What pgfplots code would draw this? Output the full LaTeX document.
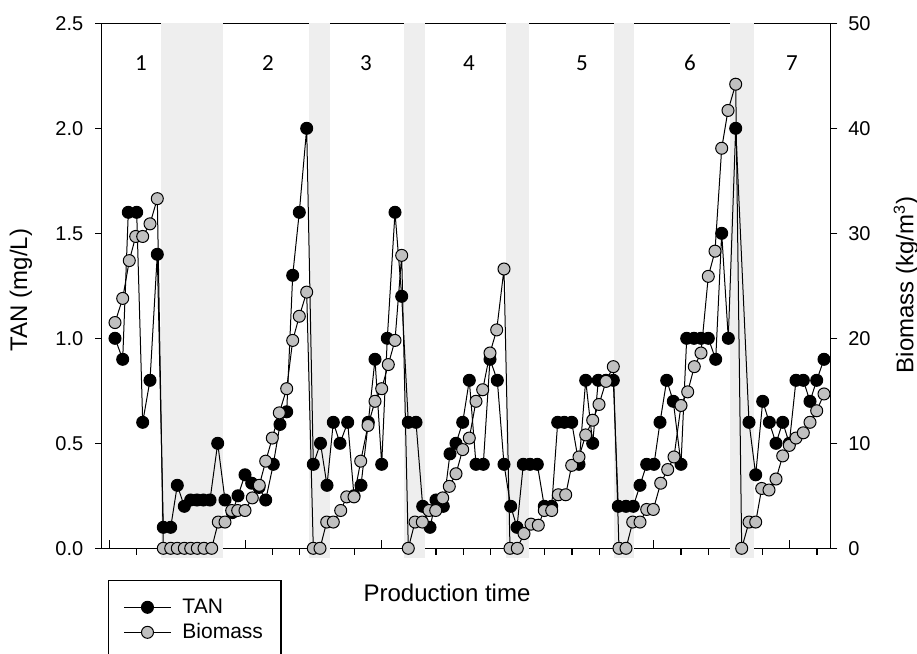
\documentclass[border=0pt]{standalone}
\usepackage{pgfplots}
\pgfplotsset{compat=1.18}
\usepackage{fontspec}
\setmainfont{Liberation Sans}
\newfontfamily\calibri{Carlito}
\definecolor{bandgray}{RGB}{238,238,238}
\definecolor{markgray}{RGB}{192,192,192}

\begin{document}
\begin{tikzpicture}
\pgfplotsset{
  common/.style={
    scale only axis, width=364.5pt, height=262.5pt,
    at={(0,0)}, anchor=south west,
    xmin=101.7, xmax=830.7, clip=false,
    axis line style={line width=0.6pt},
    every tick/.style={black, line width=0.6pt},
    tick align=outside,
    major tick length=3.3pt,
    tick label style={font=\fontsize{10}{12}\selectfont},
    /pgf/number format/assume math mode=true,
  },
  tanline/.style={black, line width=0.5pt, mark=*, mark size=3pt,
    mark options={fill=black, draw=black, line width=0.5pt}},
  bioline/.style={black, line width=0.5pt, mark=*, mark size=3pt,
    mark options={fill=markgray, draw=black, line width=0.5pt}},
}

% TAN, left axis
\begin{axis}[common,
  ymin=0, ymax=2.5, ytick={0,0.5,...,2.5}, ytick pos=left,
  yticklabel style={xshift=-2.4pt, /pgf/number format/fixed,
    /pgf/number format/fixed zerofill, /pgf/number format/precision=1},
  xtick pos=left,
  xtick={136.5,163.7,190.9,218.2,272.6,299.8,327.1,354.3,408.7,435.9,463.2,490.4,
         544.8,572.0,599.3,626.5,680.9,708.1,735.4,762.6,817.0},
  xticklabels={},
  extra x ticks={109.3,245.4,381.5,517.6,653.7,789.8},
  extra x tick labels={},
  extra x tick style={tick align=inside, major tick length=4pt, xtick pos=left},
]
% harvest / restocking periods
\addplot[fill=bandgray, draw=none] coordinates {(161,-0.048) (161,2.5) (223,2.5) (223,-0.048)} -- cycle;
\addplot[fill=bandgray, draw=none] coordinates {(309,-0.048) (309,2.5) (330,2.5) (330,-0.048)} -- cycle;
\addplot[fill=bandgray, draw=none] coordinates {(404,-0.048) (404,2.5) (425,2.5) (425,-0.048)} -- cycle;
\addplot[fill=bandgray, draw=none] coordinates {(506,-0.048) (506,2.5) (529,2.5) (529,-0.048)} -- cycle;
\addplot[fill=bandgray, draw=none] coordinates {(614,-0.048) (614,2.5) (634,2.5) (634,-0.048)} -- cycle;
\addplot[fill=bandgray, draw=none] coordinates {(730,-0.048) (730,2.5) (754,2.5) (754,-0.048)} -- cycle;

\addplot[tanline] coordinates {
(115,1.0) (122.7,0.9) (128.3,1.6) (136.7,1.6) (142.7,0.6) (150,0.8) (157.3,1.4)
(163.3,0.1) (170.7,0.1) (177.3,0.3) (184.3,0.2) (190.7,0.23) (197,0.23) (203.3,0.23)
(210,0.23) (217.7,0.5) (225,0.23) (232.3,0.17) (238,0.25) (245,0.35) (251.7,0.31)
(259,0.29) (265.7,0.23) (273.3,0.4) (280,0.59) (286.7,0.65) (292.7,1.3) (299.3,1.6)
(306.7,2.0) (313.3,0.4) (320.5,0.5) (327,0.3) (333.3,0.6) (340,0.5) (347.7,0.6)
(354,0.25) (361,0.3) (368.3,0.6) (375,0.9) (381.7,0.4) (387.3,1.0) (395,1.6)
(401.7,1.2) (408.3,0.6) (416,0.6) (422.7,0.2) (430,0.1) (436,0.23) (443.3,0.2)
(450,0.45) (456,0.5) (462.7,0.6) (469.3,0.8) (476,0.4) (483.3,0.4) (490,0.9)
(497.3,0.8) (504,0.4) (510.7,0.2) (517,0.1) (523.3,0.4) (530,0.4) (537.3,0.4)
(544.3,0.2) (551.7,0.2) (557.7,0.6) (564.3,0.6) (571.7,0.6) (579,0.4) (585.7,0.8)
(592.7,0.5) (598.3,0.8) (606,0.8) (613.3,0.8) (618.3,0.2) (626,0.2) (633.3,0.2)
(640,0.3) (646.7,0.4) (654,0.4) (660,0.6) (666.7,0.8) (673.3,0.7) (681,0.4)
(686.7,1.0) (694,1.0) (701,1.0) (708.3,1.0) (715.7,0.9) (721.7,1.5) (728.3,1.0)
(735.7,2.0) (749,0.6) (755.7,0.35) (762.7,0.7) (769.3,0.6) (776,0.5) (782.7,0.6)
(789.3,0.5) (796,0.8) (803.3,0.8) (810,0.7) (816.7,0.8) (824,0.9)
};

\foreach \n/\xx in {1/141,2/268,3/366,4/469,5/582,6/690,7/792}{
  \edef\tmp{\noexpand\node[font=\noexpand\calibri\noexpand\fontsize{11.5}{13}\noexpand\selectfont] at (axis cs:\xx,2.31) {\n};}
  \tmp
}
\node[rotate=90, font=\fontsize{12}{14}\selectfont] at (axis description cs:-0.1107,0.492) {TAN (mg/L)};
\node[font=\fontsize{12}{14}\selectfont] at (axis description cs:0.4737,-0.0846) {Production time};
\draw[line width=0.6pt] (axis description cs:0.00905,-0.0617) rectangle (axis description cs:0.2460,-0.2667);
\end{axis}

% Biomass, right axis
\begin{axis}[common,
  axis x line=none, axis y line*=right,
  ymin=0, ymax=50, ytick={0,10,...,50},
  yticklabel style={xshift=2pt},
  legend style={at={(axis description cs:0.0296,-0.0950)}, anchor=north west,
    draw=none, fill=none, inner sep=0pt, row sep=3.6pt,
    font=\fontsize{10.5}{12}\selectfont, nodes={inner sep=0pt},
    /tikz/every odd column/.append style={column sep=5.6pt}},
  legend cell align=left,
  legend image code/.code={\draw[mark repeat=2, mark phase=2] plot coordinates {(0pt,0pt) (11.65pt,0pt) (23.3pt,0pt)};},
]
\addlegendimage{tanline}
\addlegendentry{TAN}
\addplot[bioline] coordinates {
(115,21.5) (122.7,23.8) (129.3,27.4) (135.7,29.7) (142.7,29.7) (150,30.9) (157.3,33.3)
(163.3,0) (170.7,0) (177.3,0) (184.3,0) (190.7,0) (197.3,0) (204,0) (211.7,0)
(218.3,2.5) (225,2.5) (231.7,3.6) (237.7,3.6) (245,3.6) (252.3,4.8) (259.3,6.0)
(265.7,8.3) (272.3,10.5) (279.3,12.9) (286.7,15.2) (292.7,19.8) (299.3,22.1) (306.7,24.4)
(313.3,0) (320,0) (326.7,2.5) (333.3,2.5) (340.7,3.6) (346.7,4.9) (354,4.9)
(360.7,8.3) (368,11.7) (375,14.0) (381.7,15.2) (388.3,17.5) (395,19.8) (401.7,27.9)
(408.3,0) (415,2.5) (422.3,2.5) (429,3.6) (435.7,3.6) (442.7,4.8) (449.3,5.9)
(456,7.1) (462.7,9.4) (469.3,10.5) (476,14.0) (482.7,15.1) (490,18.6) (496.7,20.8)
(504,26.6) (510,0) (517.3,0) (524,1.4) (531,2.3) (538.3,2.2) (544.3,3.6) (551.7,3.6)
(558.3,5.1) (565.7,5.1) (571.7,7.9) (579,8.7) (585.7,10.8) (592.7,12.2) (599,13.7)
(606,15.9) (613.3,17.3) (619,0) (626,0) (632.7,2.5) (640,2.5) (646.7,3.7) (653.3,3.7)
(660.7,6.2) (667.7,7.5) (674,8.7) (681,13.6) (687.7,14.9) (694.3,17.3) (701,18.6)
(708.3,25.9) (715,28.3) (721.7,38.1) (728,41.7) (735.7,44.2) (741.7,0) (749,2.5)
(755.7,2.5) (761.7,5.7) (769,5.55) (776,6.6) (782.7,8.8) (789.3,9.8) (796,10.5)
(803.3,11.0) (810,12.0) (816.7,13.1) (824,14.7)
};
\addlegendentry{Biomass}
\node[rotate=90, font=\fontsize{12}{14}\selectfont] at (axis description cs:1.1033,0.5015) {Biomass (kg/m\textsuperscript{3})};
\end{axis}

\pgfresetboundingbox
\path[use as bounding box] (-50.85pt,-52.85pt) rectangle (407.65pt,274.15pt);
\end{tikzpicture}
\end{document}
